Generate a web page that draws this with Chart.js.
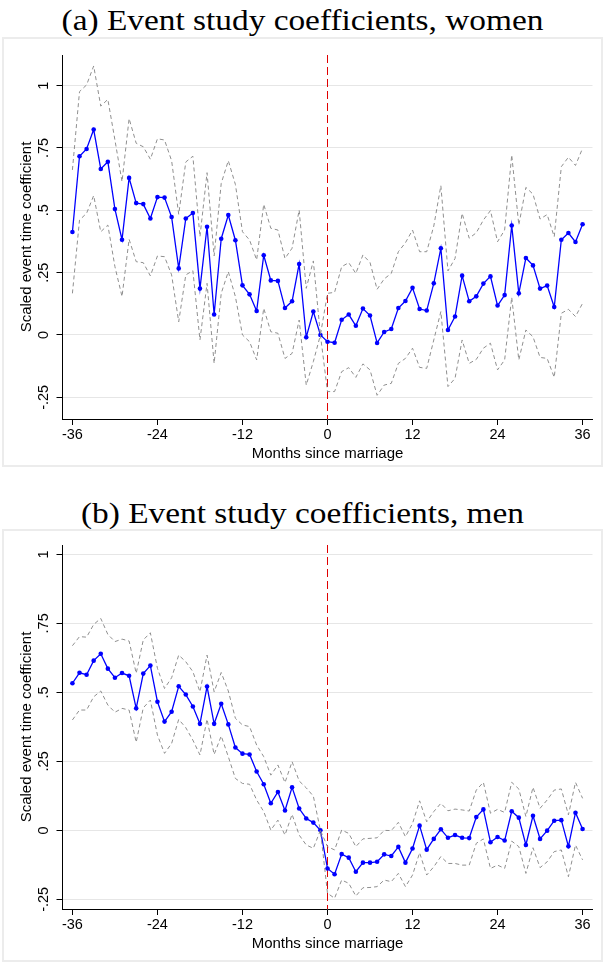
<!DOCTYPE html>
<html>
<head>
<meta charset="utf-8">
<script src="https://cdn.jsdelivr.net/npm/chart.js@4.4.1/dist/chart.umd.min.js"></script>
<style>
  body { margin:0; background:#fff; width:605px; height:970px; position:relative; overflow:hidden; }
  .ttl { position:absolute; left:0; width:605px; text-align:center; font-family:"Liberation Serif", serif;
         font-size:29px; line-height:29px; color:#000; transform:scaleX(1.15); transform-origin:center; white-space:nowrap; }
  .box { position:absolute; left:2px; width:597px; border:2px solid #ececec; }
  canvas { display:block; }
</style>
</head>
<body>
<div class="ttl" style="top:6px">(a) Event study coefficients, women</div>
<div class="box" style="top:37px;height:426px"><canvas id="chartA" width="597" height="426"></canvas></div>
<div class="ttl" style="top:499px">(b) Event study coefficients, men</div>
<div class="box" style="top:529px;height:429px"><canvas id="chartB" width="597" height="429"></canvas></div>

<script>
const months = [-36,-35,-34,-33,-32,-31,-30,-29,-28,-27,-26,-25,-24,-23,-22,-21,-20,-19,-18,-17,-16,-15,-14,-13,-12,-11,-10,-9,-8,-7,-6,-5,-4,-3,-2,-1,
  0,1,2,3,4,5,6,7,8,9,10,11,12,13,14,15,16,17,18,19,20,21,22,23,24,25,26,27,28,29,30,31,32,33,34,35,36];

const xTicks = [-36,-24,-12,0,12,24,36];
const yTicks = [-0.25,0,0.25,0.5,0.75,1];
const yLabels = ['-.25','0','.25','.5','.75','1'];

// women
const womenCoef = [0.413,0.717,0.746,0.824,0.666,0.695,0.505,0.382,0.630,0.529,0.525,0.467,0.553,0.551,0.473,0.267,0.467,0.489,0.186,0.434,0.082,0.386,0.481,0.380,0.199,0.163,0.096,0.320,0.219,0.217,0.108,0.135,0.285,-0.009,0.094,0,
  -0.027,-0.031,0.061,0.082,0.037,0.106,0.078,-0.032,0.012,0.024,0.108,0.136,0.189,0.104,0.098,0.207,0.348,0.020,0.074,0.238,0.135,0.155,0.206,0.235,0.118,0.160,0.439,0.167,0.309,0.279,0.186,0.198,0.112,0.382,0.409,0.373,0.444];
const womenHi = [0.662,0.976,1.003,1.079,0.918,0.945,0.782,0.615,0.868,0.769,0.755,0.705,0.787,0.782,0.699,0.484,0.694,0.717,0.394,0.651,0.317,0.608,0.699,0.604,0.414,0.381,0.301,0.524,0.428,0.421,0.307,0.348,0.501,0.187,0.297,0,
  0.167,0.171,0.274,0.290,0.247,0.321,0.291,0.183,0.225,0.247,0.334,0.370,0.421,0.334,0.334,0.437,0.599,0.257,0.307,0.488,0.388,0.410,0.461,0.499,0.374,0.421,0.722,0.441,0.592,0.565,0.465,0.483,0.394,0.675,0.713,0.680,0.749];
const womenLo = [0.167,0.461,0.488,0.559,0.414,0.441,0.274,0.154,0.384,0.294,0.290,0.237,0.317,0.314,0.241,0.053,0.241,0.258,-0.020,0.207,-0.114,0.167,0.254,0.154,0.0,-0.027,-0.100,0.107,0.013,0.007,-0.094,-0.074,0.060,-0.201,-0.107,0,
  -0.227,-0.227,-0.147,-0.131,-0.170,-0.116,-0.140,-0.242,-0.201,-0.194,-0.114,-0.094,-0.053,-0.130,-0.134,-0.020,0.094,-0.207,-0.174,-0.020,-0.114,-0.098,-0.053,-0.033,-0.140,-0.100,0.151,-0.100,0.020,-0.007,-0.090,-0.094,-0.170,0.087,0.103,0.074,0.127];

// men
const menCoef = [0.533,0.571,0.564,0.615,0.640,0.586,0.553,0.570,0.560,0.442,0.568,0.597,0.466,0.394,0.430,0.522,0.492,0.449,0.386,0.521,0.386,0.459,0.384,0.300,0.278,0.275,0.213,0.167,0.098,0.139,0.072,0.156,0.079,0.043,0.028,0,
  -0.138,-0.159,-0.086,-0.099,-0.150,-0.117,-0.117,-0.114,-0.087,-0.093,-0.060,-0.117,-0.066,0.017,-0.070,-0.031,0.004,-0.027,-0.017,-0.027,-0.028,0.048,0.076,-0.043,-0.024,-0.037,0.069,0.046,-0.053,0.053,-0.031,-0.001,0.035,0.037,-0.058,0.064,0.005];
const menHi = [0.669,0.702,0.700,0.746,0.768,0.710,0.684,0.693,0.686,0.569,0.690,0.716,0.587,0.514,0.553,0.635,0.611,0.575,0.502,0.635,0.502,0.572,0.505,0.406,0.382,0.376,0.309,0.267,0.200,0.237,0.173,0.249,0.179,0.154,0.124,0,
  -0.059,-0.071,0.001,-0.011,-0.059,-0.031,-0.029,-0.027,0.0,-0.001,0.029,-0.023,0.025,0.107,0.031,0.068,0.098,0.071,0.077,0.074,0.070,0.146,0.174,0.062,0.076,0.065,0.174,0.150,0.050,0.156,0.080,0.110,0.146,0.150,0.056,0.174,0.116];
const menLo = [0.400,0.436,0.436,0.484,0.505,0.454,0.428,0.442,0.436,0.319,0.444,0.472,0.345,0.279,0.315,0.402,0.372,0.327,0.273,0.403,0.275,0.342,0.267,0.188,0.170,0.167,0.110,0.068,0.001,0.037,-0.017,0.058,-0.017,-0.053,-0.065,0,
  -0.228,-0.246,-0.180,-0.192,-0.238,-0.208,-0.207,-0.204,-0.180,-0.186,-0.156,-0.204,-0.162,-0.081,-0.162,-0.132,-0.095,-0.120,-0.120,-0.126,-0.126,-0.047,-0.031,-0.138,-0.126,-0.138,-0.039,-0.059,-0.156,-0.063,-0.135,-0.114,-0.077,-0.071,-0.168,-0.053,-0.107];

const sans = '"Liberation Sans", Arial, sans-serif';

// marriage line + rotated y labels + axis titles
const decor = {
  id: 'decor',
  beforeDatasetsDraw(chart) {
    const { ctx, chartArea: { top, bottom }, scales: { x } } = chart;
    const px = x.getPixelForValue(0);
    ctx.save();
    ctx.strokeStyle = '#e00000';
    ctx.lineWidth = 1;
    ctx.setLineDash([8, 4]);
    ctx.beginPath();
    ctx.moveTo(px, top);
    ctx.lineTo(px, bottom);
    ctx.stroke();
    ctx.restore();
  },
  afterDraw(chart) {
    const { ctx, chartArea: { left, right, top, bottom }, scales: { y } } = chart;
    ctx.save();
    ctx.fillStyle = '#000';
    ctx.textAlign = 'center';
    ctx.textBaseline = 'middle';
    ctx.font = '14.5px ' + sans;
    for (let i = 0; i < yTicks.length; i++) {
      const py = y.getPixelForValue(yTicks[i]);
      ctx.save();
      ctx.translate(left - 19, py);
      ctx.rotate(-Math.PI / 2);
      ctx.fillText(yLabels[i], 0, 0);
      ctx.restore();
    }
    ctx.font = '15px ' + sans;
    ctx.save();
    ctx.translate(left - 36, (top + bottom) / 2);
    ctx.rotate(-Math.PI / 2);
    ctx.fillText('Scaled event time coefficient', 0, 0);
    ctx.restore();
    ctx.fillText('Months since marriage', (left + right) / 2, bottom + 34.5);
    ctx.restore();
  }
};

function makePanel(id, coef, hi, lo, yMin, yMax, topPad, xHeight) {
  const pts = arr => months.map((m, i) => ({ x: m, y: arr[i] }));
  const band = arr => ({
    data: pts(arr), borderColor: '#8f8f8f', borderWidth: 1, borderDash: [4, 3],
    pointRadius: 0, tension: 0, fill: false
  });
  return new Chart(document.getElementById(id), {
    type: 'line',
    data: {
      datasets: [
        band(hi),
        band(lo),
        {
          data: pts(coef), borderColor: '#0000ff', backgroundColor: '#0000ff', borderWidth: 1.3,
          pointRadius: 2.3, pointHoverRadius: 2.3, pointBorderWidth: 0, tension: 0, fill: false
        }
      ]
    },
    options: {
      responsive: false,
      animation: false,
      layout: { padding: { left: 0, top: topPad, right: 8.5, bottom: 0 } },
      plugins: { legend: { display: false }, tooltip: { enabled: false } },
      scales: {
        x: {
          type: 'linear', min: -37.4, max: 37.4,
          afterBuildTicks: s => { s.ticks = xTicks.map(v => ({ value: v })); },
          afterFit: s => { s.height = xHeight; },
          ticks: { color: '#000', font: { family: sans, size: 14.5 }, padding: 1, maxRotation: 0,
                   callback: v => String(v) },
          grid: { drawOnChartArea: false, tickLength: 6, tickColor: '#000' },
          border: { color: '#000', width: 1 }
        },
        y: {
          type: 'linear', min: yMin, max: yMax,
          afterBuildTicks: s => { s.ticks = yTicks.map(v => ({ value: v })); },
          afterFit: s => { s.width = 58.5; },
          ticks: { display: false },
          grid: { color: '#e6e6e6', lineWidth: 1, tickLength: 6, tickColor: '#000' },
          border: { color: '#000', width: 1 }
        }
      }
    },
    plugins: [decor]
  });
}

makePanel('chartA', womenCoef, womenHi, womenLo, -0.337, 1.123, 16, 46);
makePanel('chartB', menCoef, menHi, menLo, -0.285, 1.034, 14, 51);
</script>
</body>
</html>
